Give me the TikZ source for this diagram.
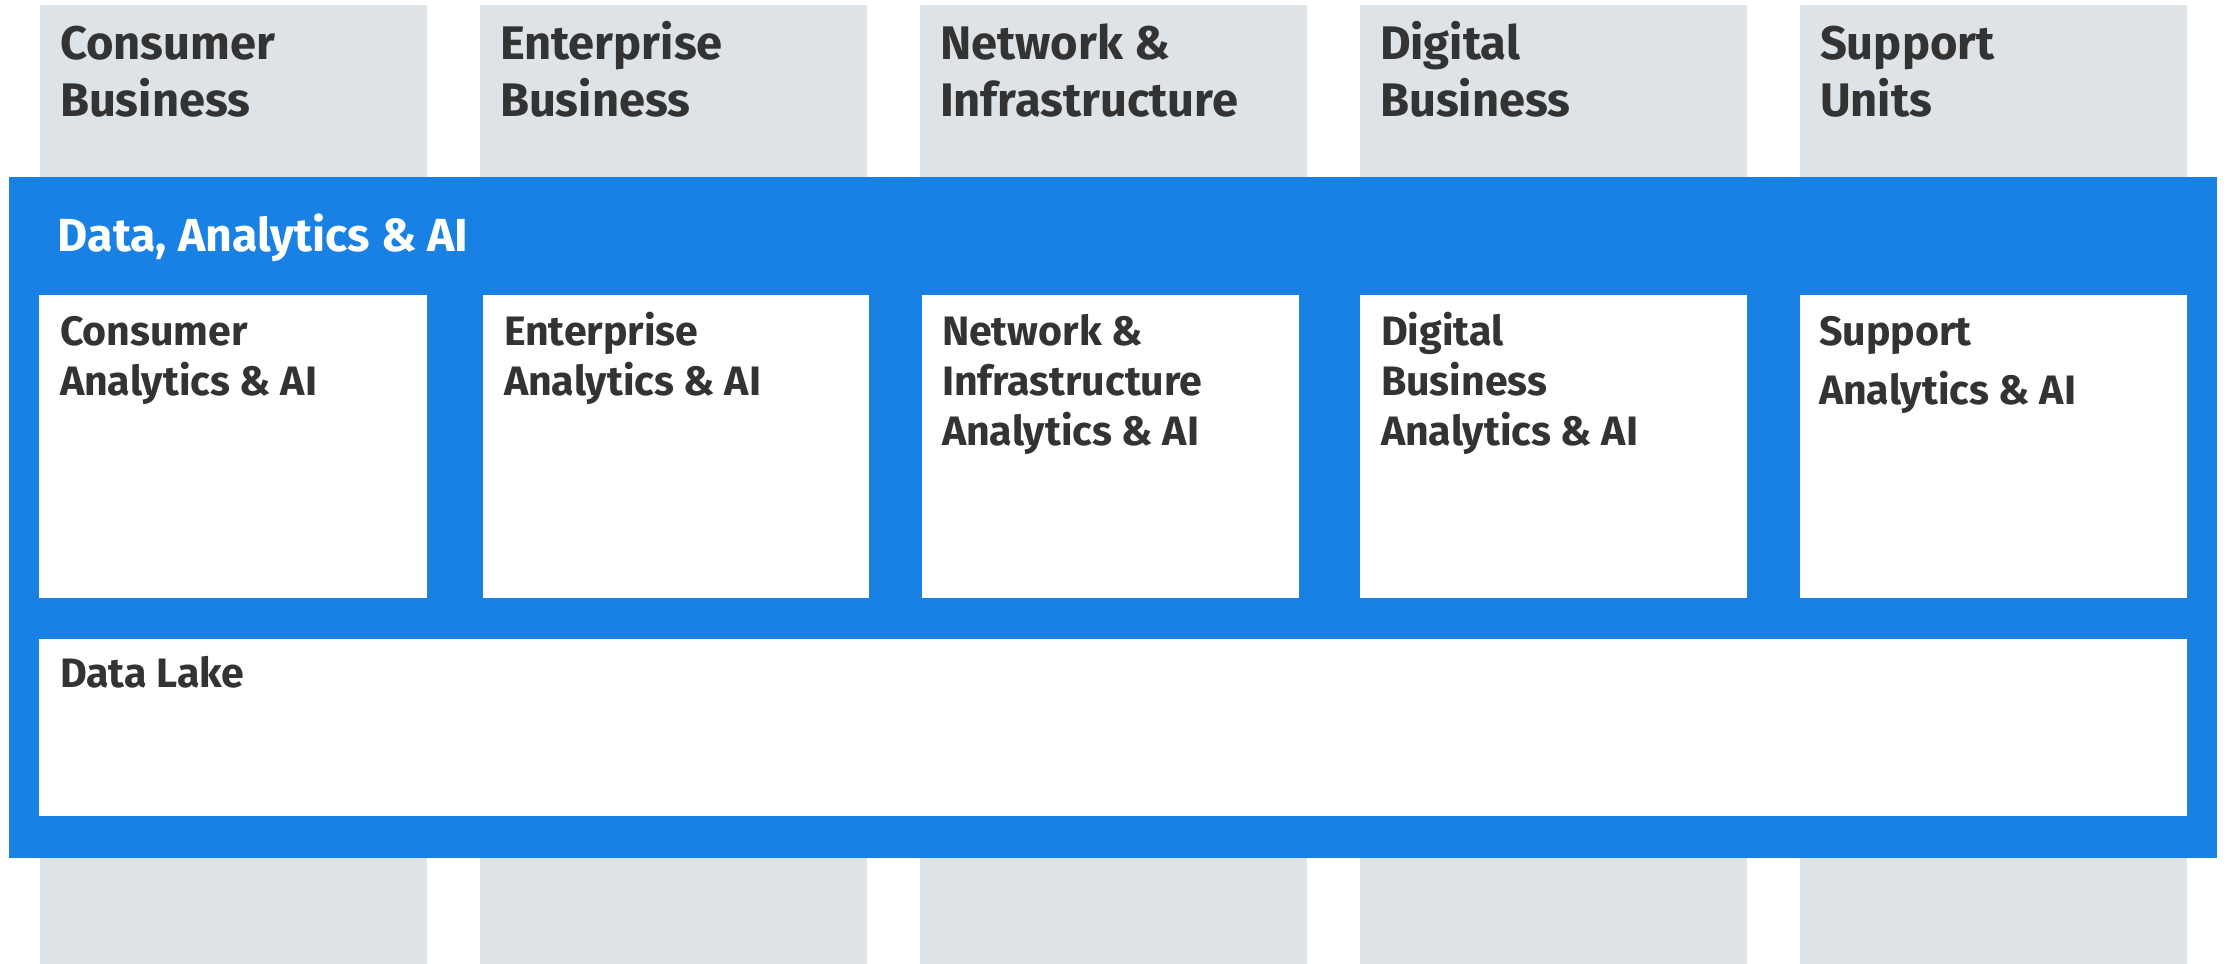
\documentclass[tikz,border=0pt]{standalone}
\usepackage{fontspec}
\setmainfont{Fira Sans}
\usepackage{tikz}
\usetikzlibrary{positioning}
\definecolor{dablue}{RGB}{24,129,227}
\definecolor{unitgray}{RGB}{222,227,231}
\definecolor{labeltext}{RGB}{51,51,51}
\newcommand{\capstrut}{\rule{0pt}{0.85em}}

\begin{document}
\begin{tikzpicture}[inner sep=0pt,outer sep=0pt]
 \tikzstyle{unit}=[fill=unitgray,minimum width=3.87cm,minimum height=9.59cm,anchor=south west]
 \tikzstyle{unittext}=[text=labeltext,anchor=north west,align=left,font=\bfseries\fontsize{13.4}{16.2}\selectfont]
 \tikzstyle{aibox}=[fill=white,minimum height=3.03cm,anchor=south west]
 \tikzstyle{aitext}=[text=labeltext,anchor=north west,align=left,font=\bfseries\fontsize{11.7}{14.3}\selectfont]
 \useasboundingbox (0,0) rectangle (22.27,9.64);

   % business units behind the platform
   \node[unit] (cons) at (0.40,0) {};
   \node[unit] (ent)  at (4.80,0) {};
   \node[unit] (net)  at (9.20,0) {};
   \node[unit] (dig)  at (13.60,0) {};
   \node[unit] (sup)  at (18.00,0) {};

   \node[unittext] (consT) at ([xshift=0.20cm,yshift=-0.144cm]cons.north west) {\capstrut Consumer\\Business};
   \node[unittext] (entT)  at ([xshift=0.20cm,yshift=-0.144cm]ent.north west) {\capstrut Enterprise\\Business};
   \node[unittext] (netT)  at ([xshift=0.20cm,yshift=-0.144cm]net.north west) {\capstrut Network \&\\Infrastructure};
   \node[unittext] (digT)  at ([xshift=0.20cm,yshift=-0.144cm]dig.north west) {\capstrut Digital\\Business};
   \node[unittext] (supT)  at ([xshift=0.20cm,yshift=-0.144cm]sup.north west) {\capstrut Support\\Units};

   % platform
   \node[fill=dablue,minimum width=22.08cm,minimum height=6.81cm,anchor=south west] (daai) at (0.09,1.06) {};
   \node[text=white,anchor=north west,font=\bfseries\fontsize{13.2}{16}\selectfont] (daaiT)
      at ([xshift=0.49cm,yshift=-0.355cm]daai.north west) {\capstrut Data, Analytics \& AI};

   \node[aibox,minimum width=3.88cm] (consAI) at (0.39,3.66) {};
   \node[aibox,minimum width=3.86cm] (entAI)  at (4.83,3.66) {};
   \node[aibox,minimum width=3.77cm] (netAI)  at (9.22,3.66) {};
   \node[aibox,minimum width=3.87cm] (digAI)  at (13.60,3.66) {};
   \node[aibox,minimum width=3.87cm] (supAI)  at (18.00,3.66) {};

   \node[aitext] at ([xshift=0.21cm,yshift=-0.154cm]consAI.north west) {\capstrut Consumer\\Analytics \& AI};
   \node[aitext] at ([xshift=0.21cm,yshift=-0.154cm]entAI.north west) {\capstrut Enterprise\\Analytics \& AI};
   \node[aitext] at ([xshift=0.20cm,yshift=-0.154cm]netAI.north west) {\capstrut Network \&\\Infrastructure\\Analytics \& AI};
   \node[aitext] at ([xshift=0.21cm,yshift=-0.154cm]digAI.north west) {\capstrut Digital\\Business\\Analytics \& AI};
   \node[aitext,font=\bfseries\fontsize{11.7}{16.8}\selectfont] at ([xshift=0.19cm,yshift=-0.154cm]supAI.north west) {\capstrut Support\\Analytics \& AI};

   \node[fill=white,minimum width=21.48cm,minimum height=1.77cm,anchor=south west] (lake) at (0.39,1.48) {};
   \node[aitext] (lakeT) at ([xshift=0.21cm,yshift=-0.134cm]lake.north west) {\capstrut Data Lake};
\end{tikzpicture}
\end{document}
